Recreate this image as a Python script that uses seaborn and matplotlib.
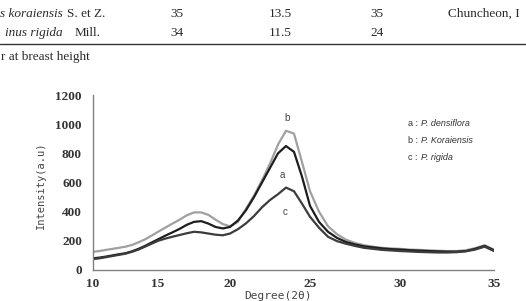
import numpy as np
import pandas as pd
import seaborn as sns
import matplotlib.pyplot as plt

# table fragment above the chart
row_names = ["s koraiensis", "inus rigida"]
row_authors = ["S. et Z.", "Mill."]
col_age = ["35", "34"]
col_height = ["13.5", "11.5"]
col_dbh = ["35", "24"]
row_site = ["Chuncheon, I", ""]
footnote = "r at breast height"

# XRD curves
degree = [10, 10.5, 11, 11.5, 12, 12.5, 13, 13.5, 14, 14.5, 15, 15.5, 16, 16.5, 17, 17.5,
          18, 18.5, 19, 19.5, 20, 20.5, 21, 21.5, 22, 22.5, 23, 23.5, 24, 24.5, 25, 25.5,
          26, 26.5, 27, 27.5, 28, 28.5, 29, 29.5, 30, 30.5, 31, 31.5, 32, 32.5, 33, 33.5,
          34, 34.5, 35]
koraiensis = [125, 130, 138, 145, 152, 160, 172, 190, 210, 235, 262, 290, 318, 345, 375, 395,
              395, 378, 345, 315, 300, 330, 420, 510, 615, 730, 860, 955, 935, 740, 540, 400,
              300, 245, 208, 185, 170, 160, 152, 148, 145, 140, 138, 135, 132, 130, 130, 135,
              150, 170, 140]
densiflora = [80, 85, 92, 100, 108, 115, 128, 145, 165, 188, 210, 235, 258, 282, 310, 330,
              335, 318, 295, 285, 295, 340, 410, 500, 600, 700, 800, 850, 810, 640, 440, 330,
              262, 220, 192, 175, 162, 155, 148, 143, 140, 136, 133, 130, 128, 126, 126, 130,
              145, 165, 135]
rigida = [75, 80, 88, 96, 104, 112, 125, 140, 160, 180, 200, 215, 228, 240, 252, 262,
          258, 250, 242, 238, 250, 280, 320, 370, 430, 480, 520, 565, 540, 455, 365, 290,
          228, 198, 180, 165, 152, 145, 138, 134, 130, 127, 124, 122, 120, 120, 122, 128,
          140, 160, 130]
legend_lines = [("a : ", "P. densiflora"), ("b : ", "P. Koraiensis"), ("c : ", "P. rigida")]

df = pd.concat([
    pd.DataFrame({"degree": degree, "intensity": koraiensis, "sample": "b"}),
    pd.DataFrame({"degree": degree, "intensity": densiflora, "sample": "a"}),
    pd.DataFrame({"degree": degree, "intensity": rigida, "sample": "c"}),
])

sns.set_theme(style="white")

fig = plt.figure(figsize=(5.26, 3.01), dpi=100)
W, H = 526, 301

# table text
tfont = dict(family="Liberation Serif", fontsize=9.5, color="#2a2a2a", va="center")
for i, y in enumerate([14, 33]):
    yy = 1 - y / H
    fig.text((0 if i == 0 else 5) / W, yy, row_names[i], style="italic", **tfont)
    fig.text((67 if i == 0 else 75) / W, yy, row_authors[i], **tfont)
    fig.text(177 / W, yy, col_age[i], ha="center", **tfont)
    fig.text(280 / W, yy, col_height[i], ha="center", **tfont)
    fig.text(377 / W, yy, col_dbh[i], ha="center", **tfont)
    if row_site[i]:
        fig.text(448 / W, yy, row_site[i], **tfont)
fig.add_artist(plt.Line2D([0, 1], [1 - 43.5 / H, 1 - 43.5 / H], color="#333333", lw=1.0))
fig.text(1 / W, 1 - 57 / H, footnote, **tfont)

# chart
ax = fig.add_axes([93 / W, (H - 270) / H, (494 - 93) / W, (270 - 95) / H])

# the scanned axis is not evenly spaced
scale_deg = [0, 10, 15, 20, 25, 30, 35, 50]
scale_px = [-37, 93, 158, 230, 310, 400, 494, 776]
ax.set_xscale("function", functions=(lambda x: np.interp(x, scale_deg, scale_px),
                                      lambda p: np.interp(p, scale_px, scale_deg)))

sns.lineplot(data=df, x="degree", y="intensity", hue="sample",
             palette={"b": "#a0a0a0", "a": "#1e1e1e", "c": "#3c3c3c"},
             hue_order=["b", "a", "c"], legend=False, lw=1.6, ax=ax)

ax.set_xlim(10, 35)
ax.set_ylim(0, 1200)
ax.set_xticks([10, 15, 20, 25, 30, 35])
ax.set_yticks(range(0, 1201, 200))
ax.minorticks_off()
ax.set_xlabel("")
ax.set_ylabel("")
for s in ["top", "right"]:
    ax.spines[s].set_visible(False)
for s in ["left", "bottom"]:
    ax.spines[s].set_color("#808080")
    ax.spines[s].set_linewidth(1.0)
ax.tick_params(axis="both", direction="in", color="#707070", width=1.0, length=4,
               labelcolor="#333333", labelsize=9.5)
ax.tick_params(axis="y", pad=8)
ax.tick_params(axis="x", pad=6)
for lab in ax.get_xticklabels() + ax.get_yticklabels():
    lab.set_family("Liberation Serif")
    lab.set_fontweight("bold")

ax.text(23.55, 1045, "b", ha="center", va="center", fontsize=7, color="#444444", family="Liberation Sans")
ax.text(23.25, 650, "a", ha="center", va="center", fontsize=7, color="#444444", family="Liberation Sans")
ax.text(23.45, 395, "c", ha="center", va="center", fontsize=7, color="#444444", family="Liberation Sans")

for i, (pre, name) in enumerate(legend_lines):
    yy = 1 - (123 + 17.5 * i) / H
    fig.text(408 / W, yy, pre, fontsize=6.5, family="Liberation Sans", color="#333333", va="center")
    fig.text(421 / W, yy, name, fontsize=6.5, family="Liberation Sans", style="italic",
             color="#333333", va="center")

fig.text(41 / W, 1 - 185 / H, "Intensity(a.u)", rotation=90, ha="center", va="center",
         family="DejaVu Sans Mono", fontsize=7.5, color="#444444")
fig.text(278 / W, 1 - 291 / H, "Degree(2θ)", ha="center", va="top",
         family="DejaVu Sans Mono", fontsize=8, color="#444444")

fig.savefig("out.png", dpi=100)
